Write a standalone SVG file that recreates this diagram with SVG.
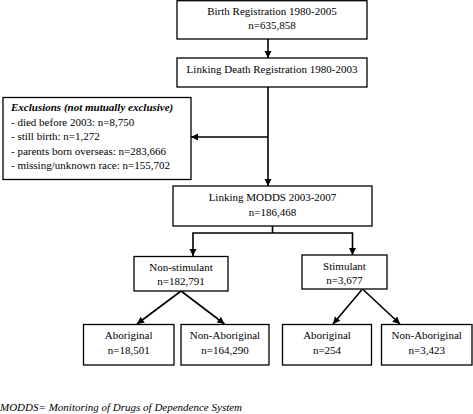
<svg xmlns="http://www.w3.org/2000/svg" width="473" height="414" viewBox="0 0 473 414">
<defs>
<style>
.box{fill:#fff;stroke:#000;stroke-width:1.3}
.t{font-family:"Liberation Serif","Times New Roman",serif;font-size:11px;fill:#000}
.c{text-anchor:middle}
.ln{fill:none;stroke:#000;stroke-width:1.6}
.arr{marker-end:url(#ah)}
</style>
<marker id="ah" viewBox="0 0 10 10" refX="10" refY="5" markerWidth="4.5" markerHeight="4.5" orient="auto" markerUnits="strokeWidth">
<path d="M0,0 L10,5 L0,10 z" fill="#000"/>
</marker>
</defs>
<rect width="473" height="414" fill="#fff"/>
<g id="connectors">
<line class="ln arr" x1="268" y1="39" x2="268" y2="58"/>
<line class="ln arr" x1="268" y1="87" x2="268" y2="186"/>
<line class="ln arr" x1="268" y1="137" x2="191" y2="137"/>
<line class="ln" x1="272.5" y1="226" x2="272.5" y2="233"/>
<polyline class="ln arr" points="272.5,233 193,233 193,256"/>
<polyline class="ln arr" points="272.5,233 352.5,233 352.5,255"/>
<line class="ln arr" x1="181" y1="291" x2="137" y2="324"/>
<line class="ln arr" x1="181" y1="291" x2="224.5" y2="324"/>
<line class="ln arr" x1="362.5" y1="289" x2="333" y2="324"/>
<line class="ln arr" x1="362.5" y1="289" x2="400" y2="324"/>
</g>
<g id="birth">
<rect class="box" x="177" y="0.7" width="190" height="38.3"/>
<text class="t c" x="272" y="15">Birth Registration 1980-2005</text>
<text class="t c" x="272" y="29">n=635,858</text>
</g>
<g id="death">
<rect class="box" x="177" y="58" width="190" height="29"/>
<text class="t c" x="272" y="73">Linking Death Registration 1980-2003</text>
</g>
<g id="exclusions">
<rect class="box" x="3" y="97.5" width="188" height="82"/>
<text class="t" x="11" y="111" font-weight="bold" font-style="italic">Exclusions (not mutually exclusive)</text>
<text class="t" x="11" y="126">- died before 2003: n=8,750</text>
<text class="t" x="11" y="140">- still birth: n=1,272</text>
<text class="t" x="11" y="155">- parents born overseas: n=283,666</text>
<text class="t" x="11" y="169">- missing/unknown race: n=155,702</text>
</g>
<g id="modds">
<rect class="box" x="173" y="186" width="199" height="40"/>
<text class="t c" x="272.5" y="201">Linking MODDS 2003-2007</text>
<text class="t c" x="272.5" y="216">n=186,468</text>
</g>
<g id="nonstim">
<rect class="box" x="134" y="256.5" width="94" height="34.5"/>
<text class="t c" x="181" y="271">Non-stimulant</text>
<text class="t c" x="181" y="285">n=182,791</text>
</g>
<g id="stim">
<rect class="box" x="302" y="255" width="85" height="34"/>
<text class="t c" x="344.5" y="270">Stimulant</text>
<text class="t c" x="344.5" y="284">n=3,677</text>
</g>
<g id="abor1">
<rect class="box" x="83.5" y="324.5" width="90.5" height="40.5"/>
<text class="t c" x="128.7" y="338.5">Aboriginal</text>
<text class="t c" x="128.7" y="353.5">n=18,501</text>
</g>
<g id="nonabor1">
<rect class="box" x="181" y="324.5" width="88" height="40.5"/>
<text class="t c" x="225" y="338.5">Non-Aboriginal</text>
<text class="t c" x="225" y="353.5">n=164,290</text>
</g>
<g id="abor2">
<rect class="box" x="282.5" y="324.5" width="89" height="40.5"/>
<text class="t c" x="327" y="338.5">Aboriginal</text>
<text class="t c" x="327" y="353.5">n=254</text>
</g>
<g id="nonabor2">
<rect class="box" x="381.5" y="324.5" width="90.5" height="40.5"/>
<text class="t c" x="426.7" y="338.5">Non-Aboriginal</text>
<text class="t c" x="426.7" y="353.5">n=3,423</text>
</g>
<text class="t" x="0" y="411" font-style="italic">MODDS= Monitoring of Drugs of Dependence System</text>
</svg>
